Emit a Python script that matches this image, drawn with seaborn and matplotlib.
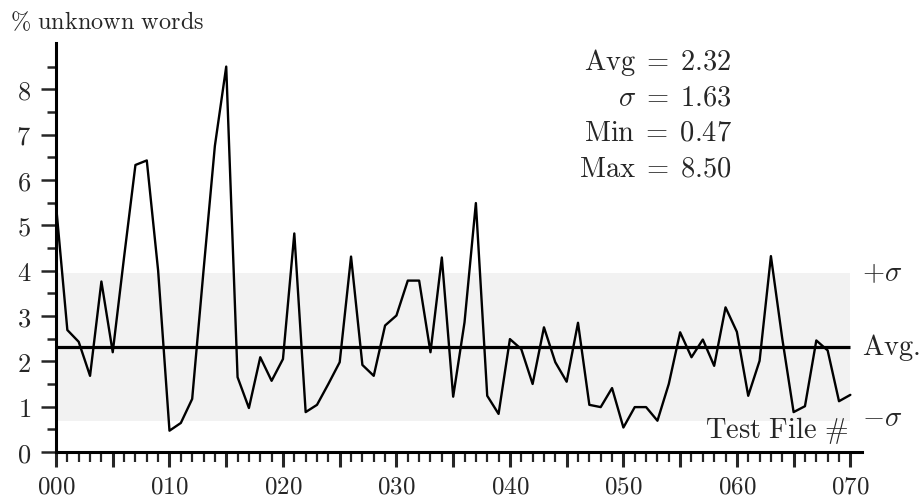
import matplotlib
matplotlib.use("Agg")
import matplotlib.pyplot as plt
import seaborn as sns
import numpy as np
import pandas as pd

# ---- data ----
test_file = list(range(71))
unknown_pct = [5.45, 2.69, 2.43, 1.68, 3.76, 2.20, 4.30, 6.33, 6.43, 4.00,
               0.47, 0.64, 1.17, 4.00, 6.75, 8.50, 1.65, 0.97, 2.09, 1.57,
               2.05, 4.82, 0.88, 1.04, 1.50, 1.98, 4.31, 1.92, 1.68, 2.79,
               3.01, 3.78, 3.78, 2.20, 4.29, 1.22, 2.86, 5.49, 1.24, 0.84,
               2.49, 2.27, 1.50, 2.75, 1.98, 1.55, 2.85, 1.04, 0.99, 1.41,
               0.54, 0.99, 0.99, 0.69, 1.50, 2.64, 2.09, 2.48, 1.90, 3.19,
               2.65, 1.24, 2.01, 4.32, 2.50, 0.88, 1.01, 2.46, 2.24, 1.12,
               1.26]
stat_avg = 2.32
stat_sigma = 1.63
stat_min = 0.47
stat_max = 8.50
x_tick_values = [0, 10, 20, 30, 40, 50, 60, 70]
x_tick_labels = ["000", "010", "020", "030", "040", "050", "060", "070"]
y_tick_values = [0, 1, 2, 3, 4, 5, 6, 7, 8]

df = pd.DataFrame({"file": test_file, "pct": unknown_pct})

sns.set_style("ticks")
plt.rcParams["mathtext.fontset"] = "cm"
plt.rcParams["font.family"] = ["cmr10", "DejaVu Serif"]
plt.rcParams["axes.unicode_minus"] = False

fig = plt.figure(figsize=(9.22, 5.02), dpi=100)
ax = fig.add_axes([56 / 922, 1 - 453 / 502, (861.7 - 56) / 922, (453 - 44) / 502])

# sigma band and average line
ax.fill_between([0, 70], stat_avg - stat_sigma, stat_avg + stat_sigma,
                color="#f2f2f2", linewidth=0, zorder=0)
ax.hlines(stat_avg, 0, 70, color="black", linewidth=2.3, zorder=2)

sns.lineplot(data=df, x="file", y="pct", ax=ax, color="black",
             linewidth=1.7, zorder=3, clip_on=False)

ax.set_xlim(0, 71)
ax.set_ylim(0, 9.02)
ax.set_xlabel("")
ax.set_ylabel("")

for s in ["top", "right"]:
    ax.spines[s].set_visible(False)
for s in ["left", "bottom"]:
    ax.spines[s].set_linewidth(2.2)
    ax.spines[s].set_color("black")

major_x = np.arange(0, 71, 5)
ax.set_xticks(major_x)
ax.set_xticklabels([r"$\mathrm{%s}$" % x_tick_labels[x_tick_values.index(v)]
                    if v in x_tick_values else "" for v in major_x])
ax.set_xticks(np.arange(0, 71, 1), minor=True)
ax.set_yticks(y_tick_values)
ax.set_yticklabels([r"$%d$" % v for v in y_tick_values])
ax.set_yticks(np.arange(0, 9, 0.5), minor=True)

ax.tick_params(axis="x", which="major", direction="out", length=11, width=2.2,
               pad=6, labelsize=18)
ax.tick_params(axis="x", which="minor", direction="out", length=7, width=1.6)
ax.tick_params(axis="y", which="major", direction="out", length=11, width=1.8,
               pad=7, labelsize=19)
ax.tick_params(axis="y", which="minor", direction="out", length=6.5, width=1.8)

# texts
fig.text(10 / 922, 1 - 29 / 502, r"$\%\ \mathrm{unknown\ words}$",
         fontsize=17.5, ha="left", va="baseline")

stats = [r"$\mathrm{Avg}\;=\;%.2f$" % stat_avg,
         r"$\sigma\;=\;%.2f$" % stat_sigma,
         r"$\mathrm{Min}\;=\;%.2f$" % stat_min,
         r"$\mathrm{Max}\;=\;%.2f$" % stat_max]
for k, s in enumerate(stats):
    fig.text(732 / 922, 1 - (70 + 35.5 * k) / 502, s, fontsize=20.5,
             ha="right", va="baseline")

ax.text(71.0, stat_avg + stat_sigma, r"$+\sigma$", fontsize=20.5,
        ha="left", va="center", clip_on=False)
ax.text(71.0, stat_avg, r"$\mathrm{Avg.}$", fontsize=20.5,
        ha="left", va="center", clip_on=False)
ax.text(71.0, stat_avg - stat_sigma + 0.05, r"$-\sigma$", fontsize=20.5,
        ha="left", va="center", clip_on=False)
ax.text(69.8, 0.33, r"$\mathrm{Test\ File}\ \#$", fontsize=20.5,
        ha="right", va="baseline")

fig.savefig("out.png", dpi=100)
